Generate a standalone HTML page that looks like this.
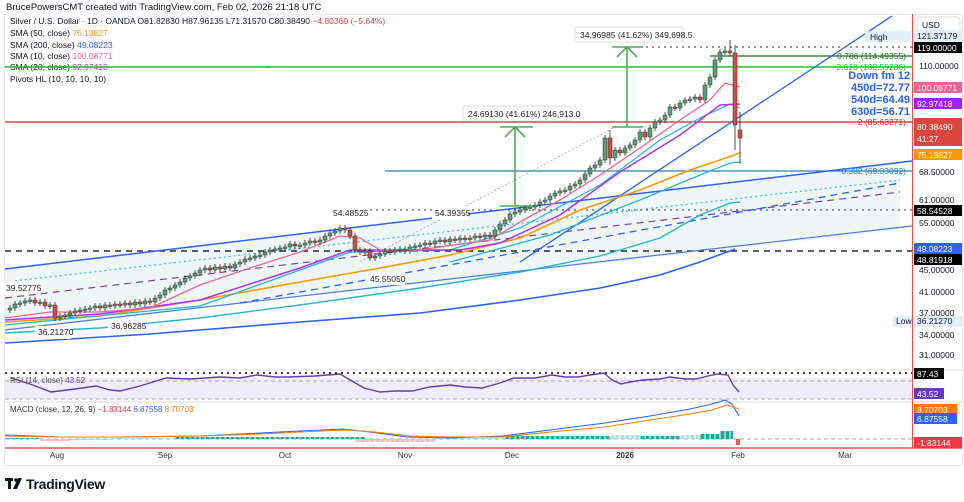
<!DOCTYPE html>
<html><head><meta charset="utf-8"><style>
html,body{margin:0;padding:0;background:#fff;}
svg{display:block;font-family:"Liberation Sans",sans-serif;}
</style></head><body>
<svg width="964" height="502" viewBox="0 0 964 502" xmlns="http://www.w3.org/2000/svg">
<defs>
<pattern id="pg" x="0" y="0" width="5" height="10" patternUnits="userSpaceOnUse"><rect x="0.5" y="0" width="4" height="10" fill="#26a69a"/></pattern>
<pattern id="pl" x="0" y="0" width="5" height="10" patternUnits="userSpaceOnUse"><rect x="0.5" y="0" width="4" height="10" fill="#b2dfdb"/></pattern>
<pattern id="pr" x="0" y="0" width="5" height="10" patternUnits="userSpaceOnUse"><rect x="0.5" y="0" width="4" height="10" fill="#ffb3b8"/></pattern>
</defs>
<rect width="964" height="502" fill="#fff"/>
<text x="6" y="10" font-size="9.5" fill="#131722">BrucePowersCMT created with TradingView.com, Feb 02, 2026 21:18 UTC</text>
<rect x="4.5" y="14.5" width="958" height="451" fill="none" stroke="#e8e8e8"/>
<polygon points="5,269 900,163 900,230 5,330" fill="#eef7f6"/>
<polygon points="5,378 912,378 912,399 5,399" fill="#efedf9"/>
<line x1="5" y1="67" x2="912" y2="67" stroke="#22c02a" stroke-width="1.5"/>
<line x1="5" y1="122" x2="912" y2="122" stroke="#d32020" stroke-width="1.2"/>
<line x1="710" y1="56" x2="912" y2="56" stroke="#1b6e1b" stroke-width="1.2"/>
<line x1="385" y1="171" x2="912" y2="171" stroke="#2a7fb8" stroke-width="1.2"/>
<line x1="5" y1="251" x2="912" y2="251" stroke="#000" stroke-width="1.2" stroke-dasharray="6,5"/>
<line x1="640" y1="47" x2="912" y2="47" stroke="#333" stroke-dasharray="2,4"/>
<line x1="370" y1="210" x2="912" y2="210" stroke="#333" stroke-dasharray="2,4"/>
<line x1="5" y1="269" x2="912" y2="161" stroke="#2962ff" stroke-width="1.5"/>
<line x1="5" y1="330" x2="912" y2="226" stroke="#4a7be0" stroke-width="1.2"/>
<line x1="5" y1="298" x2="900" y2="192" stroke="#7b3fb0" stroke-width="1.2" stroke-dasharray="7,5"/>
<line x1="5" y1="282" x2="900" y2="180" stroke="#2bc0d8" stroke-width="1.2" stroke-dasharray="2,3"/>
<line x1="240" y1="303" x2="900" y2="183" stroke="#2962ff" stroke-width="1.3" stroke-dasharray="7,5"/>
<line x1="520" y1="262" x2="892" y2="16" stroke="#2962ff" stroke-width="1.3"/>
<line x1="360" y1="262" x2="615" y2="127" stroke="#999" stroke-width="0.7" stroke-dasharray="2,2"/>
<polyline points="5,343 150,334 300,322 420,313 520,300 600,288 660,275 700,262 735,249" fill="none" stroke="#2962ff" stroke-width="1.6"/>
<polyline points="5,333 100,328 200,318 300,305 420,288 520,272 600,256 660,238 700,215 730,203 740,202" fill="none" stroke="#22b8cf" stroke-width="1.4"/>
<polyline points="450,262 550,235 640,200 700,175 730,163 740,162" fill="none" stroke="#22b8cf" stroke-width="1.3"/>
<polyline points="5,322 100,316 200,300 300,282 380,268 450,255 520,238 580,210 640,190 690,170 720,160 740,153" fill="none" stroke="#ff9800" stroke-width="1.6"/>
<polyline points="5,325 200,306 300,270 350,252 450,250 520,228 600,185 660,140 700,118 730,104 740,108" fill="none" stroke="#22b8cf" stroke-width="1.2"/>
<polyline points="5,320 100,314 200,300 300,268 350,250 400,250 460,250 500,243 560,215 620,172 680,135 720,105 740,104" fill="none" stroke="#b030f0" stroke-width="1.5"/>
<polyline points="5,318 50,312 100,312 150,308 200,285 250,268 300,252 340,236 360,238 380,250 420,250 460,244 490,240 520,222 560,200 600,175 640,148 680,120 710,100 725,83 740,87" fill="none" stroke="#f06292" stroke-width="1.3"/>
<!-- wicks -->
<path stroke="#222" stroke-width="0.8" fill="none" d="M10,305V313M15,301V311M20,300V307M25,298V306M30,297V304M35,297V306M40,299V306M45,299V309M50,302V309M55,302V321M60,313V321M65,312V319M70,310V318M75,308V316M80,307V314M85,306V313M90,305V312M95,303V311M100,303V311M105,302V311M110,302V309M115,301V309M120,301V308M125,300V308M130,300V308M135,299V308M140,299V307M145,298V307M150,298V305M155,295V305M160,292V301M165,287V298M170,285V293M175,282V291M180,279V288M185,275V285M190,273V281M195,270V279M200,267V276M205,265V273M210,265V273M215,264V273M220,264V272M225,263V272M230,263V271M235,261V271M240,259V267M245,256V265M250,255V262M255,253V261M260,252V259M265,249V258M270,247V255M275,246V253M280,245V252M285,244V251M290,241V250M295,241V249M300,242V249M305,240V248M310,238V246M315,238V245M320,237V245M325,233V243M330,230V239M335,228V236M340,225V234M345,225V233M350,227V239M355,233V253M360,247V255M365,248V255M370,248V261M375,253V261M380,251V259M385,248V257M390,248V255M395,247V255M400,246V253M405,246V254M410,244V254M415,243V250M420,242V249M425,240V248M430,240V247M435,238V247M440,237V244M445,237V245M450,236V245M455,236V243M460,235V243M465,235V242M470,235V242M475,233V241M480,233V240M485,232V240M490,232V239M495,227V239M500,221V233M505,217V227M510,211V223M515,209V217M520,207V215M525,205V213M530,204V211M535,202V210M540,199V208M545,197V205M550,193V203M555,190V199M560,188V196M565,187V194M570,183V193M575,181V189M580,177V187M585,171V183M590,165V177M595,162V171M600,157V168M605,135V163M610,130V165M615,147V161M620,147V156M625,145V156M630,142V151M635,137V148M640,129V143M645,129V140M650,125V140M655,119V131M660,117V125M665,112V123M670,104V118M675,104V111M680,100V111M685,97V106M690,96V103M695,94V102M700,94V103M705,82V103M710,74V88M715,57V80M720,49V63M725,48V55M730,40V56M735,45V150M740,112V164"/>
<path fill="#5a9e74" stroke="#333" stroke-width="0.5" d="M8,308h4v2h-4zM13,304h4v4h-4zM18,303h4v1.5h-4zM23,301h4v2h-4zM28,300h4v1.5h-4zM38,302h4v1.5h-4zM48,305h4v1.5h-4zM58,316h4v2h-4zM63,315h4v1.5h-4zM68,313h4v2h-4zM73,311h4v2h-4zM78,310h4v1.5h-4zM83,309h4v1.5h-4zM88,308h4v1.5h-4zM93,306h4v2h-4zM103,305h4v3h-4zM113,304h4v2h-4zM123,303h4v2h-4zM133,302h4v3h-4zM143,301h4v3h-4zM153,298h4v4h-4zM158,295h4v3h-4zM163,290h4v5h-4zM168,288h4v2h-4zM173,285h4v3h-4zM178,282h4v3h-4zM183,278h4v4h-4zM188,276h4v2h-4zM193,273h4v3h-4zM198,270h4v3h-4zM203,268h4v2h-4zM213,267h4v3h-4zM223,266h4v3h-4zM233,264h4v4h-4zM238,262h4v2h-4zM243,259h4v3h-4zM248,258h4v1.5h-4zM253,256h4v2h-4zM258,255h4v1.5h-4zM263,252h4v3h-4zM268,250h4v2h-4zM273,249h4v1.5h-4zM278,248h4v1.5h-4zM283,247h4v1.5h-4zM288,244h4v3h-4zM298,245h4v1.5h-4zM303,243h4v2h-4zM308,241h4v2h-4zM318,240h4v2h-4zM323,236h4v4h-4zM328,233h4v3h-4zM333,231h4v2h-4zM338,228h4v3h-4zM363,251h4v1.5h-4zM373,256h4v2h-4zM378,254h4v2h-4zM383,251h4v3h-4zM393,250h4v2h-4zM398,249h4v1.5h-4zM408,247h4v4h-4zM413,246h4v1.5h-4zM418,245h4v1.5h-4zM423,243h4v2h-4zM433,241h4v3h-4zM438,240h4v1.5h-4zM448,239h4v3h-4zM458,238h4v2h-4zM468,238h4v1.5h-4zM473,236h4v2h-4zM483,235h4v2h-4zM493,230h4v6h-4zM498,224h4v6h-4zM503,220h4v4h-4zM508,214h4v6h-4zM513,212h4v2h-4zM518,210h4v2h-4zM523,208h4v2h-4zM528,207h4v1.5h-4zM533,205h4v2h-4zM538,202h4v3h-4zM543,200h4v2h-4zM548,196h4v4h-4zM553,193h4v3h-4zM558,191h4v2h-4zM563,190h4v1.5h-4zM568,186h4v4h-4zM573,184h4v2h-4zM578,180h4v4h-4zM583,174h4v6h-4zM588,168h4v6h-4zM593,165h4v3h-4zM598,160h4v5h-4zM603,138h4v22h-4zM613,150h4v8h-4zM623,148h4v5h-4zM628,145h4v3h-4zM633,140h4v5h-4zM638,132h4v8h-4zM648,128h4v9h-4zM653,122h4v6h-4zM658,120h4v2h-4zM663,115h4v5h-4zM668,107h4v8h-4zM678,103h4v5h-4zM683,100h4v3h-4zM688,99h4v1.5h-4zM693,97h4v2h-4zM703,85h4v15h-4zM708,77h4v8h-4zM713,60h4v17h-4zM718,52h4v8h-4zM723,51h4v1.5h-4z"/>
<path fill="#d9473f" stroke="#333" stroke-width="0.5" d="M33,300h4v3h-4zM43,302h4v4h-4zM53,305h4v13h-4zM98,306h4v2h-4zM108,305h4v1.5h-4zM118,304h4v1.5h-4zM128,303h4v2h-4zM138,302h4v2h-4zM148,301h4v1.5h-4zM208,268h4v2h-4zM218,267h4v2h-4zM228,266h4v2h-4zM293,244h4v2h-4zM313,241h4v1.5h-4zM343,228h4v2h-4zM348,230h4v6h-4zM353,236h4v14h-4zM358,250h4v2h-4zM368,251h4v7h-4zM388,251h4v1.5h-4zM403,249h4v2h-4zM428,243h4v1.5h-4zM443,240h4v2h-4zM453,239h4v1.5h-4zM463,238h4v1.5h-4zM478,236h4v1.5h-4zM488,235h4v1.5h-4zM608,138h4v20h-4zM618,150h4v3h-4zM643,132h4v5h-4zM673,107h4v1.5h-4zM698,97h4v3h-4zM728,51h4v2h-4zM733,53h4v72h-4zM738,130h4v8h-4z"/>
<g stroke="#4caf50" stroke-width="1.6" fill="none">
<line x1="500" y1="206" x2="533" y2="206"/><line x1="515" y1="206" x2="515" y2="127"/><polyline points="505,137 515,127 525,137"/><line x1="500" y1="127" x2="533" y2="127"/>
<line x1="612" y1="127" x2="643" y2="127"/><line x1="627" y1="127" x2="627" y2="47"/><polyline points="617,57 627,47 637,57"/><line x1="612" y1="47" x2="643" y2="47"/>
</g>
<g font-size="8.5" fill="#222">
<rect x="463" y="106" width="108" height="15" fill="#fff" stroke="#ddd" rx="2"/><text x="468" y="117">24.69130 (41.61%) 246,913.0</text>
<rect x="575" y="27" width="108" height="15" fill="#fff" stroke="#ddd" rx="2"/><text x="580" y="38">34.96985 (41.62%) 349,698.5</text>
<rect x="330" y="207" width="36" height="13" fill="#fff"/><text x="333" y="216">54.48525</text>
<rect x="432" y="207" width="36" height="13" fill="#fff"/><text x="435" y="216">54.39355</text>
<rect x="367" y="272" width="38" height="13" fill="#fff"/><text x="370" y="282">45.55050</text>
<rect x="2" y="281" width="38" height="13" fill="#fff"/><text x="6" y="291">39.52775</text>
<rect x="35" y="326" width="36" height="13" fill="#fff"/><text x="38" y="335">36.21270</text>
<rect x="108" y="320" width="36" height="13" fill="#fff"/><text x="111" y="329">36.96285</text>
</g>
<g font-size="8.5" text-anchor="end">
<text x="906" y="59" fill="#1b6e1b">0.786 (114.49355)</text>
<text x="906" y="70" fill="#22c02a">2.618 (108.59236)</text>
<text x="906" y="125" fill="#d32020">2 (85.63271)</text>
<text x="906" y="174" fill="#2a7fb8">0.382 (69.33092)</text>
</g>
<g font-size="11" font-weight="bold" fill="#2962ff" text-anchor="end">
<text x="910" y="79">Down fm 12</text><text x="910" y="91">450d=72.77</text><text x="910" y="103">540d=64.49</text><text x="910" y="115">630d=56.71</text>
</g>
<rect x="6" y="14" width="260" height="76" fill="#fff" opacity="0.85"/>
<g font-size="8.5" fill="#131722">
<text x="10" y="24">Silver / U.S. Dollar · 1D · OANDA  O81.82830  H87.96135  L71.31570  C80.38490 <tspan fill="#d9473f">−4.80360 (−5.64%)</tspan></text>
<text x="10" y="36">SMA (50, close) <tspan fill="#ff9800">75.19827</tspan></text>
<text x="10" y="48">SMA (200, close) <tspan fill="#2962ff">49.08223</tspan></text>
<text x="10" y="59">SMA (10, close) <tspan fill="#f06292">100.08771</tspan></text>
<text x="10" y="70">SMA (20, close) <tspan fill="#b030f0">92.97418</tspan></text>
<text x="10" y="82">Pivots HL (10, 10, 10, 10)</text>
</g>
<line x1="5" y1="67" x2="270" y2="67" stroke="#22c02a" stroke-width="1.5"/>
<line x1="5" y1="370" x2="962" y2="370" stroke="#ddd"/>
<line x1="5" y1="402" x2="962" y2="402" stroke="#ddd"/>
<line x1="5" y1="373" x2="912" y2="373" stroke="#000" stroke-width="1.5" stroke-dasharray="2,4"/>
<line x1="5" y1="381" x2="912" y2="381" stroke="#aaa" stroke-dasharray="4,3"/>
<line x1="5" y1="399" x2="912" y2="399" stroke="#aaa" stroke-dasharray="4,3"/>
<line x1="5" y1="439" x2="912" y2="439" stroke="#aaa" stroke-dasharray="4,3"/>
<polyline points="11,378 30,384 51,392 75,389 96,386 110,390 120,391 140,386 166,378 190,379 220,377 240,378 257,375 275,377 289,377 315,376 340,374 352,381 364,388 380,392 395,391 412,391 430,387 450,385 465,387 482,388 500,383 514,378 535,378 552,375 565,377 578,377 590,375 604,373 612,380 621,384 630,382 643,380 660,379 670,377 685,379 696,379 708,376 718,374 728,375 733,385 739,392" fill="none" stroke="#673ab7" stroke-width="1.4"/>
<text x="10" y="383" font-size="8" fill="#555">RSI (14, close) <tspan fill="#673ab7">43.52</tspan></text>
<!-- histogram -->
<rect x="5" y="438" width="35" height="1" fill="url(#pg)"/>
<rect x="40" y="439" width="30" height="2" fill="url(#pr)"/>
<rect x="70" y="439" width="40" height="1" fill="url(#pr)"/>
<rect x="110" y="438" width="65" height="1" fill="url(#pl)"/>
<rect x="175" y="437" width="190" height="2" fill="url(#pg)"/>
<rect x="365" y="439" width="25" height="2" fill="url(#pr)"/>
<rect x="355" y="439" width="80" height="3" fill="url(#pr)"/>
<rect x="435" y="438" width="70" height="1" fill="url(#pl)"/>
<rect x="505" y="436" width="105" height="3" fill="url(#pg)"/>
<rect x="610" y="435" width="30" height="4" fill="url(#pl)"/>
<rect x="640" y="436" width="40" height="3" fill="url(#pg)"/>
<rect x="680" y="435" width="20" height="4" fill="url(#pl)"/>
<rect x="700" y="434" width="20" height="5" fill="url(#pg)"/>
<rect x="720" y="431" width="13" height="8" fill="url(#pg)"/>
<rect x="736" y="439" width="4" height="6" fill="#ff5252"/>
<polyline points="5,435 60,437 120,437 200,436 260,433 300,431 343,429 370,432 407,437 450,438 503,436 550,430 605,423 650,416 690,409 712,404 725,400 732,404 739,416" fill="none" stroke="#2962ff" stroke-width="1.1"/>
<polyline points="5,436 60,437 120,437 200,436 260,434 300,432 345,430 375,432 410,436 450,437 503,437 550,432 605,427 650,420 690,414 712,410 727,405 739,409" fill="none" stroke="#ff7b00" stroke-width="1.1"/>
<text x="10" y="412" font-size="8" fill="#333">MACD (close, 12, 26, 9) <tspan fill="#f23645">−1.83144</tspan> <tspan fill="#2962ff">6.87558</tspan> <tspan fill="#ff7b00">8.70703</tspan></text>
<line x1="5" y1="448" x2="962" y2="448" stroke="#e03030" stroke-width="1.2"/>
<line x1="912.5" y1="14" x2="912.5" y2="448" stroke="#e85050" stroke-width="1"/>
<g font-size="8" fill="#333" text-anchor="middle">
<text x="57" y="458">Aug</text><text x="165" y="458">Sep</text><text x="285" y="458">Oct</text><text x="405" y="458">Nov</text><text x="512" y="458">Dec</text><text x="625" y="458" font-weight="bold">2026</text><text x="738" y="458">Feb</text><text x="845" y="458">Mar</text>
</g>
<g fill="#131722">
<rect x="5" y="478" width="8" height="3"/><rect x="8" y="478" width="3" height="11"/><circle cx="16" cy="480" r="1.8"/><polygon points="18,478 22,478 17,489 13,489"/>
<text x="26" y="489" font-size="14" font-weight="bold" letter-spacing="-0.3">TradingView</text>
</g>
<g font-size="8.5" fill="#131722">
<rect x="917" y="17" width="43" height="16" rx="3" fill="#fff" stroke="#ddd"/><text x="922" y="28">USD</text>
<rect x="865" y="31" width="46" height="11" fill="#e3eefb"/><text x="870" y="40">High</text>
<rect x="914" y="30" width="48" height="11" fill="#e3eefb"/><text x="917" y="39">121.37179</text>
<rect x="914" y="42" width="48" height="11" fill="#000"/><text x="917" y="51" fill="#fff">119.00000</text>
<text x="919" y="69">110.00000</text>
<rect x="914" y="82" width="48" height="11" fill="#f06292"/><text x="917" y="91" fill="#fff">100.08771</text>
<rect x="914" y="98" width="48" height="11" fill="#a020f0"/><text x="917" y="107" fill="#fff">92.97418</text>
<text x="919" y="130">84.00000</text>
<rect x="914" y="118" width="48" height="28" fill="#d9473f"/><text x="917" y="130" fill="#fff">80.38490</text><text x="917" y="142" fill="#fff">41:27</text>
<rect x="914" y="149" width="48" height="11" fill="#ff9800"/><text x="917" y="158" fill="#fff">75.19827</text>
<text x="919" y="175">68.50000</text>
<text x="919" y="203">61.00000</text>
<rect x="914" y="205" width="48" height="11" fill="#000"/><text x="917" y="214" fill="#fff">58.54528</text>
<text x="919" y="226">55.00000</text>
<rect x="914" y="243" width="48" height="11" fill="#2962ff"/><text x="917" y="252" fill="#fff">49.08223</text>
<rect x="914" y="254" width="48" height="11" fill="#000"/><text x="917" y="263" fill="#fff">48.81918</text>
<text x="919" y="273">45.00000</text>
<text x="919" y="295">41.00000</text>
<text x="919" y="316">37.00000</text>
<rect x="893" y="316" width="19" height="11" fill="#e3eefb"/><text x="896" y="324">Low</text>
<rect x="914" y="316" width="48" height="11" fill="#e3eefb"/><text x="917" y="324">36.21270</text>
<text x="919" y="338">34.00000</text>
<text x="919" y="358">31.00000</text>
<rect x="914" y="368" width="30" height="11" fill="#000"/><text x="917" y="377" fill="#fff">87.43</text>
<rect x="914" y="388" width="30" height="11" fill="#673ab7"/><text x="917" y="397" fill="#fff">43.52</text>
<rect x="914" y="404" width="43" height="11" fill="#ff7b00"/><text x="917" y="413" fill="#fff">8.70703</text>
<rect x="914" y="413" width="43" height="11" fill="#2962ff"/><text x="917" y="422" fill="#fff">6.87558</text>
<rect x="914" y="437" width="48" height="11" fill="#f23645"/><text x="917" y="446" fill="#fff">-1.83144</text>
</g>
</svg>
</body></html>
